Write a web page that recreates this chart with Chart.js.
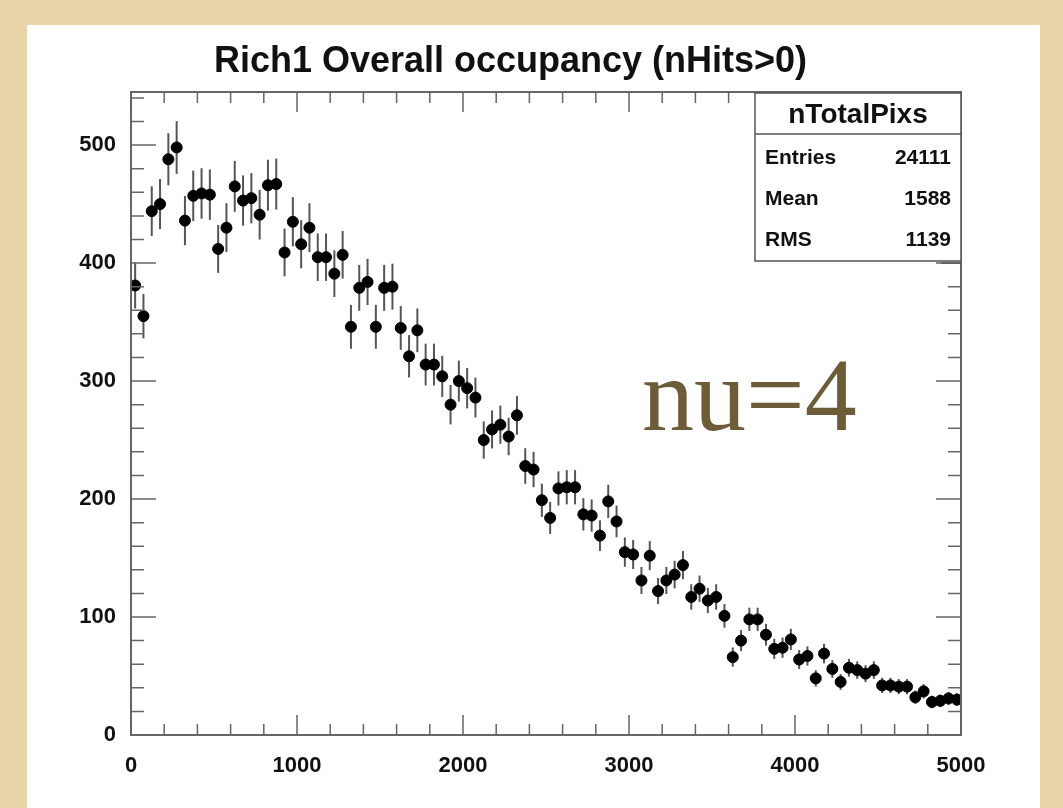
<!DOCTYPE html>
<html>
<head>
<meta charset="utf-8">
<title>Rich1 Overall occupancy</title>
<script src="https://cdn.jsdelivr.net/npm/chart.js@4.4.1/dist/chart.umd.min.js"></script>
<style>
  html, body { margin: 0; padding: 0; background: #e8d5aa; }
  canvas { display: block; }
</style>
</head>
<body>
<canvas id="chartCanvas" width="1063" height="808"></canvas>
<script>
// histogram nTotalPixs: 100 bins of width 50 between 0 and 5000
const binWidth = 50;
const xRange = [0, 5000];
const yRange = [0, 545];
const counts = [
  381, 355, 444, 450, 488, 498, 436, 457, 459, 458,
  412, 430, 465, 453, 455, 441, 466, 467, 409, 435,
  416, 430, 405, 405, 391, 407, 346, 379, 384, 346,
  379, 380, 345, 321, 343, 314, 314, 304, 280, 300,
  294, 286, 250, 259, 263, 253, 271, 228, 225, 199,
  184, 209, 210, 210, 187, 186, 169, 198, 181, 155,
  153, 131, 152, 122, 131, 136, 144, 117, 124, 114,
  117, 101, 66, 80, 98, 98, 85, 73, 74, 81,
  64, 67, 48, 69, 56, 45, 57, 55, 52, 55,
  42, 42, 41, 41, 32, 37, 28, 29, 31, 30
];
const statLabels = ['Entries', 'Mean', 'RMS'];
const statValues = ['24111', '1588', '1139'];
const histName = 'nTotalPixs';
const noteText = 'nu=4';

const points = counts.map((c, i) => ({ x: i * binWidth + binWidth / 2, y: c }));
const FONT = '"Liberation Sans", Arial, sans-serif';

const rootStyle = {
  id: 'rootStyle',
  beforeDraw(chart) {
    const c = chart.ctx;
    c.save();
    c.fillStyle = '#e8d5aa';
    c.fillRect(0, 0, chart.width, chart.height);
    c.fillStyle = '#ffffff';
    c.fillRect(27, 25, 1013, chart.height - 25);
    c.restore();
  },
  beforeDatasetsDraw(chart) {
    const c = chart.ctx, xs = chart.scales.x, ys = chart.scales.y;
    c.save();
    c.strokeStyle = '#555';
    c.lineWidth = 2;
    points.forEach(p => {
      const e = Math.sqrt(p.y);
      const px = xs.getPixelForValue(p.x);
      c.beginPath();
      c.moveTo(px, ys.getPixelForValue(p.y - e));
      c.lineTo(px, ys.getPixelForValue(p.y + e));
      c.stroke();
    });
    c.restore();
  },
  afterDraw(chart) {
    const c = chart.ctx, a = chart.chartArea;
    const xs = chart.scales.x, ys = chart.scales.y;
    c.save();
    // frame
    c.strokeStyle = '#666';
    c.lineWidth = 2;
    c.strokeRect(a.left, a.top, a.right - a.left, a.bottom - a.top);
    // inner ticks, ROOT style
    c.lineWidth = 1.5;
    c.beginPath();
    xs.ticks.forEach(t => {
      const px = xs.getPixelForValue(t.value);
      const len = t.value % 1000 === 0 ? 20 : 11;
      c.moveTo(px, a.bottom); c.lineTo(px, a.bottom - len);
      c.moveTo(px, a.top); c.lineTo(px, a.top + len);
    });
    ys.ticks.forEach(t => {
      const py = ys.getPixelForValue(t.value);
      const len = t.value % 100 === 0 ? 25 : 13;
      c.moveTo(a.left, py); c.lineTo(a.left + len, py);
      c.moveTo(a.right, py); c.lineTo(a.right - len, py);
    });
    c.stroke();

    // stats box
    const bx = 755, by = 93, bw = a.right - 755, bh = 168;
    c.fillStyle = '#fff';
    c.fillRect(bx, by, bw, bh);
    c.strokeStyle = '#555';
    c.lineWidth = 1.5;
    c.strokeRect(bx, by, bw, bh);
    c.beginPath();
    c.moveTo(bx, by + 41); c.lineTo(bx + bw, by + 41);
    c.moveTo(bx + bw - 20, by + bh + 2); c.lineTo(bx + bw, by + bh + 2);
    c.stroke();
    c.fillStyle = '#111';
    c.font = 'bold 28px ' + FONT;
    c.textAlign = 'center';
    c.textBaseline = 'middle';
    c.fillText(histName, bx + bw / 2, by + 22);
    c.font = 'bold 21px ' + FONT;
    statLabels.forEach((lab, i) => {
      const ty = by + 65 + i * 41;
      c.textAlign = 'left';
      c.fillText(lab, bx + 10, ty);
      c.textAlign = 'right';
      c.fillText(statValues[i], bx + bw - 10, ty);
    });

    // annotation
    c.fillStyle = '#6d5c38';
    c.font = '104px "Liberation Serif", "Times New Roman", serif';
    c.textAlign = 'left';
    c.textBaseline = 'alphabetic';
    c.fillText(noteText, 642, 430);
    c.restore();
  }
};

new Chart(document.getElementById('chartCanvas').getContext('2d'), {
  type: 'scatter',
  data: {
    datasets: [{
      label: histName,
      data: points,
      backgroundColor: '#000',
      borderColor: '#000',
      pointRadius: 5.5,
      pointHoverRadius: 5.5
    }]
  },
  options: {
    responsive: false,
    animation: false,
    events: [],
    layout: { padding: { left: 60, right: 102, top: 0, bottom: 0 } },
    plugins: {
      legend: { display: false },
      tooltip: { enabled: false },
      title: {
        display: true,
        text: 'Rich1 Overall occupancy (nHits>0)',
        color: '#111',
        font: { family: FONT, size: 36, weight: 'bold' },
        padding: { top: 40, bottom: 8.8 }
      }
    },
    scales: {
      x: {
        type: 'linear',
        min: xRange[0], max: xRange[1],
        afterFit: s => { s.height = 73; },
        grid: { display: false },
        border: { display: false },
        ticks: {
          stepSize: 200,
          autoSkip: false,
          maxRotation: 0,
          padding: 10,
          color: '#111',
          font: { family: FONT, size: 22, weight: 'bold' },
          callback: v => (v % 1000 === 0 ? v : '')
        }
      },
      y: {
        type: 'linear',
        min: yRange[0], max: yRange[1],
        afterFit: s => { s.width = 71; },
        grid: { display: false },
        border: { display: false },
        ticks: {
          stepSize: 20,
          includeBounds: false,
          autoSkip: false,
          padding: 7,
          color: '#111',
          font: { family: FONT, size: 22, weight: 'bold' },
          callback: v => (v % 100 === 0 ? v : '')
        }
      }
    }
  },
  plugins: [rootStyle]
});
</script>
</body>
</html>
